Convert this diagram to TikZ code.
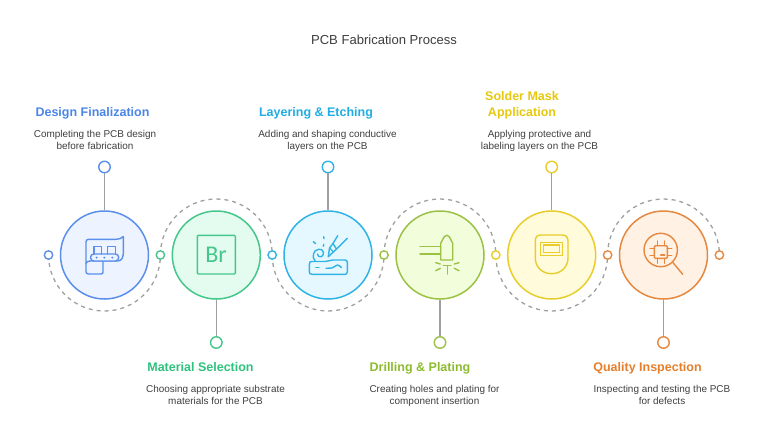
\documentclass[tikz,border=0pt]{standalone}
\usepackage{fontspec}
\setmainfont{Liberation Sans}
\newfontfamily\brfont{Carlito}
\usetikzlibrary{backgrounds}
\definecolor{cA}{HTML}{5B8FEA}\definecolor{fA}{HTML}{EDF4FF}\definecolor{tA}{HTML}{4A85E8}
\definecolor{cB}{HTML}{45C78B}\definecolor{fB}{HTML}{E3FCEF}\definecolor{tB}{HTML}{2FC27F}
\definecolor{cC}{HTML}{30B3E6}\definecolor{fC}{HTML}{E6F8FF}\definecolor{tC}{HTML}{1FADE3}
\definecolor{cD}{HTML}{9BC145}\definecolor{fD}{HTML}{F2FDDC}\definecolor{tD}{HTML}{8DBB2E}
\definecolor{cE}{HTML}{E9CD2A}\definecolor{fE}{HTML}{FFFBDB}\definecolor{tE}{HTML}{E6C80F}
\definecolor{cF}{HTML}{E68840}\definecolor{fF}{HTML}{FFF1E3}\definecolor{tF}{HTML}{E57F2B}
\definecolor{gr}{HTML}{A0A0A0}\definecolor{ink}{HTML}{3F3F3F}
\tikzset{
  big/.style={circle,minimum size=88pt,inner sep=0pt,line width=1.5pt,draw=c#1,fill=f#1},
  dotn/.style={circle,minimum size=8.4pt,inner sep=0pt,line width=1.4pt,draw=#1,fill=white},
  pin/.style={circle,minimum size=11.5pt,inner sep=0pt,line width=1.4pt,draw=#1,fill=white},
  stem/.style={draw=gr,line width=1.5pt},
  dasharc/.style={draw=gr,line width=1.3pt,dash pattern=on 4pt off 4pt},
  head/.style={font=\fontsize{12.5}{16}\selectfont\bfseries,align=center,inner sep=0pt,text=#1},
  body/.style={font=\fontsize{9.95}{12}\selectfont,align=center,inner sep=0pt,text=ink},
  ico/.style={draw=#1,line width=1.4pt,line cap=round,line join=round}
}
\begin{document}
\begin{tikzpicture}[x=1pt,y=-1pt]
\begin{pgfonlayer}{background}
\fill[white] (0,0) rectangle (768,447);
\end{pgfonlayer}
\useasboundingbox (0,0) rectangle (768,447);
\node[font=\fontsize{13.05}{15}\selectfont,text=ink,inner sep=0pt] (title) at (384,39.5) {PCB Fabrication Process};
% main circles
\node[big=A] (c1) at (104.5,255) {};
\node[big=B] (c2) at (216.3,255) {};
\node[big=C] (c3) at (328,255) {};
\node[big=D] (c4) at (440,255) {};
\node[big=E] (c5) at (551.7,255) {};
\node[big=F] (c6) at (663.5,255) {};
% dots
\node[dotn=cA] (d1) at (48.5,255) {};
\node[dotn=cB] (d2) at (160.4,255) {};
\node[dotn=cC] (d3) at (272.2,255) {};
\node[dotn=cD] (d4) at (384,255) {};
\node[dotn=cE] (d5) at (495.8,255) {};
\node[dotn=cF] (d6) at (607.6,255) {};
\node[dotn=cF] (d7) at (719.4,255) {};
% arc midpoints
\coordinate (m1) at (104.5,311);
\coordinate (m2) at (216.3,199);
\coordinate (m3) at (328,311);
\coordinate (m4) at (440,199);
\coordinate (m5) at (551.7,311);
\coordinate (m6) at (663.5,199);
\begin{pgfonlayer}{background}
\draw[dasharc] (d1.center) to[out=-90,in=180] (m1) to[out=0,in=-90] (d2.center);
\draw[dasharc] (d2.center) to[out=90,in=180] (m2) to[out=0,in=90] (d3.center);
\draw[dasharc] (d3.center) to[out=-90,in=180] (m3) to[out=0,in=-90] (d4.center);
\draw[dasharc] (d4.center) to[out=90,in=180] (m4) to[out=0,in=90] (d5.center);
\draw[dasharc] (d5.center) to[out=-90,in=180] (m5) to[out=0,in=-90] (d6.center);
\draw[dasharc] (d6.center) to[out=90,in=180] (m6) to[out=0,in=90] (d7.center);
\end{pgfonlayer}
% pins
\node[pin=cA] (p1) at (104.5,167) {};
\node[pin=cB] (p2) at (216.3,342.5) {};
\node[pin=cC] (p3) at (328,167) {};
\node[pin=cD] (p4) at (440,342.5) {};
\node[pin=cE] (p5) at (551.7,167) {};
\node[pin=cF] (p6) at (663.5,342.5) {};
\draw[stem] (p1) -- (c1);
\draw[stem] (p2) -- (c2);
\draw[stem] (p3) -- (c3);
\draw[stem] (p4) -- (c4);
\draw[stem] (p5) -- (c5);
\draw[stem] (p6) -- (c6);
% labels
\node[head=tA] (h1) at (92.5,113) {Design Finalization};
\node[body] (b1) at (95,140) {Completing the PCB design\\before fabrication};
\node[head=tB] (h2) at (200.5,366.7) {Material Selection};
\node[body] (b2) at (215.5,395) {Choosing appropriate substrate\\materials for the PCB};
\node[head=tC] (h3) at (316,113) {Layering \& Etching};
\node[body] (b3) at (327.5,141) {Adding and shaping conductive\\layers on the PCB};
\node[head=tD] (h4) at (420,368.5) {Drilling \& Plating};
\node[body] (b4) at (434.5,396) {Creating holes and plating for\\component insertion};
\node[head=tE] (h5) at (522,105.5) {Solder Mask\\Application};
\node[body] (b5) at (539.5,141) {Applying protective and\\labeling layers on the PCB};
\node[head=tF] (h6) at (647.5,368.5) {Quality Inspection};
\node[body] (b6) at (662,395) {Inspecting and testing the PCB\\for defects};
% icon 1
\draw[ico=cA] (90,261) -- (118,261) .. controls (122,260.5) and (123.3,257) .. (123.3,253) -- (123.3,236.5)
  .. controls (121.5,238.5) and (119,239.3) .. (116,239.3) -- (88.5,239.3) .. controls (87,239.3) and (86,240.3) .. (86,241.8) -- (86,271.5) .. controls (86,273.2) and (87,274) .. (88.5,274) -- (101,274) .. controls (102.5,274) and (103,273) .. (103,272) -- (103,261);
\draw[ico=cA] (86,263.5) .. controls (86,262) and (88,261) .. (90,261);
\draw[ico=cA,rounded corners=3.4pt,fill=fA] (90.5,254) rectangle (118.7,261);
\draw[ico=cA] (94,254) -- (94,246.7) -- (101.7,246.7) -- (101.7,254);
\draw[ico=cA] (107.3,254) -- (107.3,246.7) -- (115.3,246.7) -- (115.3,254);
\fill[cA] (96.7,257.6) circle (1.1pt) (104.3,257.6) circle (1.1pt) (112.3,257.6) circle (1.1pt);
% icon 2
\draw[ico=cB,rounded corners=1pt] (197.3,235.3) rectangle (235.3,274);
\node[font=\brfont\fontsize{24}{26}\selectfont,text=cB,inner sep=0pt] (br) at (216,254.5) {Br};
% icon 3
\draw[ico=cC] (309.3,264) .. controls (309.3,262) and (310.5,261.5) .. (312,261.5) -- (325,261.5) .. controls (328,261.5) and (330,260) .. (333,260) -- (345,260) .. controls (346.5,260) and (347.3,261) .. (347.3,262.5) -- (347.3,271.5) .. controls (347.3,273.5) and (346.5,274.3) .. (345,274.3) -- (312,274.3) .. controls (310,274.3) and (309.3,273.5) .. (309.3,271.5) -- cycle;
\draw[ico=cC] (315.7,267.7) -- (319,267.7);
\draw[ico=cC] (326,268.3) -- (332,268) .. controls (334.5,267.5) and (335.5,265) .. (337.5,265) .. controls (339,265) and (340,266.5) .. (341.5,267.5);
\draw[ico=cC] (315,260.5) .. controls (313,259) and (313,257) .. (313.5,254) .. controls (314,249) and (323,247) .. (323.5,252.5) .. controls (324,258) and (317.5,258) .. (317.5,254);
\draw[ico=cC] (313.3,241.7) -- (315.7,243.7) (323.7,236.7) -- (324,238.7) (323.7,244.3) -- (323.3,246.3);
\draw[ico=cC] (328.3,256.7) -- (329.5,248) -- (333,243.5) -- (337.7,235.7);
\draw[ico=cC] (328.3,256.7) -- (336,249.5) -- (347.3,238.3);
\draw[ico=cC] (329.5,248) -- (333.5,252);
\draw[ico=cC] (333,243.5) -- (336.5,249);
% icon 4
\draw[ico=cD] (420,246.7) -- (440.7,246.7) (420,254) -- (440.7,254);
\draw[ico=cD] (440.7,260) -- (452.7,260) -- (452.7,243.3) -- (449.5,237) .. controls (448.5,234.5) and (445,234.5) .. (444,237) -- (440.7,243.3) -- cycle;
\draw[ico=cD] (443.3,265.7) -- (451,265.7) (447.2,265.7) -- (447.2,274);
\draw[ico=cD] (435.7,262.7) -- (440.3,264) (435.7,270.7) -- (440.3,268.3) (454.3,264) -- (459,262.7) (454.3,268.3) -- (459,270.7);
% icon 5
\draw[ico=cE] (535.3,241) .. controls (535.3,237) and (537,235) .. (541,235) -- (562,235) .. controls (566,235) and (568,237) .. (568,241) -- (568,258) .. controls (568,267) and (561,273.7) .. (551.7,273.7) .. controls (542,273.7) and (535.3,267) .. (535.3,258) -- cycle;
\draw[ico=cE] (540.7,242.3) rectangle (562.3,255.7);
\draw[ico=cE] (543.7,245) rectangle (559.3,252.7);
% icon 6
\draw[ico=cF] (660.7,250) circle (16.7pt);
\draw[ico=cF] (672.7,262.3) -- (682.7,274.3);
\draw[ico=cF,rounded corners=1pt] (654.3,245.7) rectangle (667.3,258.3);
\draw[ico=cF] (657.3,241) -- (657.3,245.7) (664.3,241) -- (664.3,245.7) (657.3,258.3) -- (657.3,263.3) (664.3,258.3) -- (664.3,263.3)
  (650,248.3) -- (654.3,248.3) (650,255.7) -- (654.3,255.7) (667.3,248.3) -- (671.7,248.3) (667.3,255.7) -- (671.7,255.7);
\draw[ico=cF] (660.7,255) -- (664.7,255);
\end{tikzpicture}
\end{document}
